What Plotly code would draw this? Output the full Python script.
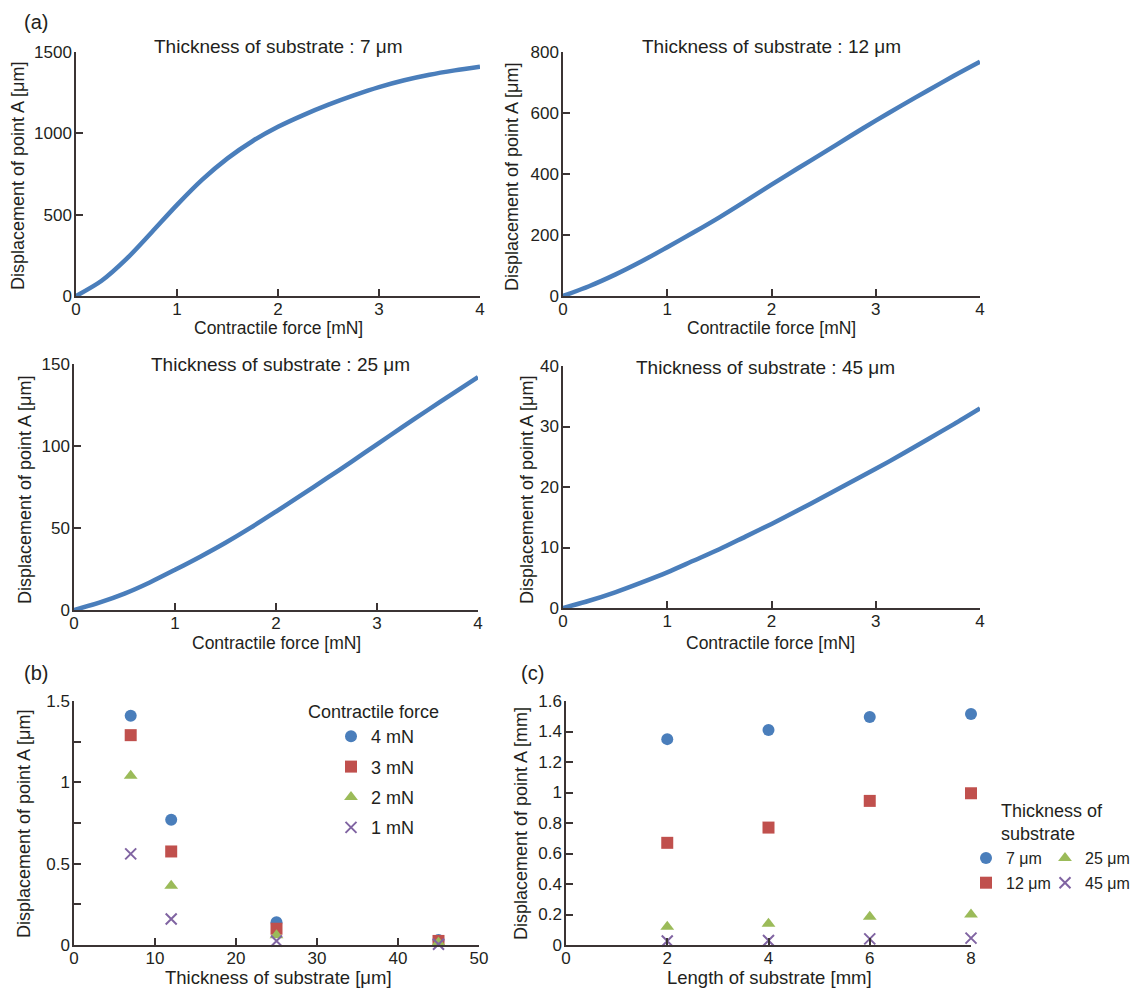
import plotly.graph_objects as go

# ---------------- data ----------------
force_mN = [0, 0.25, 0.5, 0.75, 1, 1.25, 1.5, 1.75, 2, 2.25, 2.5, 2.75, 3, 3.25, 3.5, 3.75, 4]
disp_7um = [0, 92, 228, 392, 560, 715, 846, 953, 1040, 1112, 1176, 1233, 1284, 1326, 1360, 1387, 1410]
disp_12um = [0, 32, 70, 113, 160, 208, 258, 311, 365, 418, 470, 523, 575, 625, 674, 722, 768]
disp_25um = [0, 4.5, 10, 16.8, 24.5, 32.5, 41, 50.2, 60, 70, 80.2, 90.5, 101, 111.5, 121.8, 132, 142]
disp_45um = [0, 1.2, 2.6, 4.2, 5.9, 7.8, 9.7, 11.8, 13.9, 16.1, 18.4, 20.7, 23.0, 25.4, 27.9, 30.4, 33]

panel_titles = ["Thickness of substrate : 7 μm", "Thickness of substrate : 12 μm",
                "Thickness of substrate : 25 μm", "Thickness of substrate : 45 μm"]

thickness_um = [7, 12, 25, 45]
b_4mN = [1.41, 0.77, 0.14, 0.03]
b_3mN = [1.29, 0.575, 0.10, 0.025]
b_2mN = [1.04, 0.365, 0.06, 0.015]
b_1mN = [0.56, 0.16, 0.025, 0.005]
b_names = ["4 mN", "3 mN", "2 mN", "1 mN"]

length_mm = [2, 4, 6, 8]
c_7um = [1.35, 1.41, 1.495, 1.515]
c_12um = [0.67, 0.77, 0.945, 0.995]
c_25um = [0.12, 0.14, 0.185, 0.20]
c_45um = [0.026, 0.03, 0.04, 0.045]
c_names = ["7 μm", "12 μm", "25 μm", "45 μm"]

b_yticks = [0, 0.25, 0.5, 0.75, 1, 1.25, 1.5]
b_yticktext = ["0", "", "0.5", "", "1", "", "1.5"]

# ---------------- style ----------------
W, H = 1140, 988
FONT = "Liberation Sans, Arial, sans-serif"
TXT = "#231f20"
AX = "#3b3434"
BLUE, RED, GREEN, PURPLE = "#4a7ebb", "#c0504d", "#9bbb59", "#8064a2"


def px(x):
    return x / W


def py(y):
    return 1 - y / H


fig = go.Figure()

# panel (a) line curves
curves = [disp_7um, disp_12um, disp_25um, disp_45um]
for i, ys in enumerate(curves):
    n = "" if i == 0 else str(i + 1)
    fig.add_trace(go.Scatter(x=force_mN, y=ys, mode="lines",
                             line=dict(color=BLUE, width=4.5, shape="spline", smoothing=0.8),
                             xaxis="x" + n, yaxis="y" + n, showlegend=False, hoverinfo="skip"))

# panel (b)
b_series = [b_4mN, b_3mN, b_2mN, b_1mN]
symbols = ["circle", "square", "triangle-up", "x-thin"]
colors = [BLUE, RED, GREEN, PURPLE]
for name, ys, sym, col in zip(b_names, b_series, symbols, colors):
    if sym == "x-thin":
        mk = dict(symbol=sym, size=11, color=col, line=dict(width=2, color=col))
    else:
        mk = dict(symbol=sym, size=12, color=col, line=dict(width=0))
    fig.add_trace(go.Scatter(x=thickness_um, y=ys, mode="markers", name=name, marker=mk,
                             cliponaxis=False,
                             xaxis="x5", yaxis="y5", legend="legend", legendgroup="b" + name))

# panel (c)
c_series = [c_7um, c_12um, c_25um, c_45um]
c_sym = ["circle", "square", "triangle-up", "x-thin"]
c_col = [BLUE, RED, GREEN, PURPLE]
c_leg = ["legend2", "legend2", "legend3", "legend3"]
for name, ys, sym, col, lg in zip(c_names, c_series, c_sym, c_col, c_leg):
    if sym == "x-thin":
        mk = dict(symbol=sym, size=11, color=col, line=dict(width=2, color=col))
    else:
        mk = dict(symbol=sym, size=12, color=col, line=dict(width=0))
    fig.add_trace(go.Scatter(x=length_mm, y=ys, mode="markers", name=name, marker=mk,
                             cliponaxis=False,
                             xaxis="x6", yaxis="y6", legend=lg, legendgroup="c" + name))


def axis(dom, rng, anchor, **kw):
    d = dict(domain=dom, range=rng, anchor=anchor, showline=True, linecolor=AX, linewidth=1.5,
             ticks="inside", ticklen=7, tickwidth=1.5, tickcolor=AX, showgrid=False,
             zeroline=False, automargin=False, fixedrange=True,
             tickfont=dict(size=17, color=TXT, family=FONT))
    d.update(kw)
    return d


panels = {
    1: (76, 480, 52, 296),
    2: (563, 980, 52, 296),
    3: (74, 478, 364, 610),
    4: (563, 980, 366, 608),
    5: (74, 479, 701, 945),
    6: (566, 971, 701, 945),
}
yranges = {1: [0, 1500], 2: [0, 800], 3: [0, 150], 4: [0, 40], 5: [0, 1.5], 6: [0, 1.6]}
ydticks = {1: 500, 2: 200, 3: 50, 4: 10, 6: 0.2}

layout = {}
for k, (x0, x1, yt, yb) in panels.items():
    n = "" if k == 1 else str(k)
    xd = [px(x0), px(x1)]
    yd = [py(yb), py(yt)]
    if k <= 4:
        xa = axis(xd, [0, 4], "y" + n, dtick=1, tick0=0)
    elif k == 5:
        xa = axis(xd, [0, 50], "y" + n, dtick=10, tick0=0)
    else:
        xa = axis(xd, [0, 8], "y" + n, dtick=2, tick0=0)
    if k == 5:
        ya = axis(yd, yranges[k], "x" + n, tickmode="array", tickvals=b_yticks, ticktext=b_yticktext)
    else:
        ya = axis(yd, yranges[k], "x" + n, dtick=ydticks[k], tick0=0)
    ya["ticklabelstandoff"] = -1
    xa["ticklabelstandoff"] = -3
    layout["xaxis" + n] = xa
    layout["yaxis" + n] = ya

fig.update_layout(**layout)

ann = []


def text(s, x, y, size, angle=0, xanchor="center"):
    ann.append(dict(text=s, x=px(x), y=py(y), xref="paper", yref="paper", showarrow=False,
                    xanchor=xanchor, yanchor="middle", textangle=angle,
                    font=dict(size=size, color=TXT, family=FONT)))


# panel labels
text("(a)", 36, 22, 20)
text("(b)", 36, 673, 20)
text("(c)", 532, 673, 20)

# panel titles
text(panel_titles[0], 278, 46, 19)
text(panel_titles[1], 771, 46, 19)
text(panel_titles[2], 280, 365, 19)
text(panel_titles[3], 765, 367, 19)

# x-axis titles
for cx, cy in [(278, 328), (771, 328), (276, 643), (770, 643)]:
    text("Contractile force [mN]", cx, cy, 17.5)
text("Thickness of substrate [μm]", 278, 977, 18.5)
text("Length of substrate [mm]", 769, 977, 18.5)

# y-axis titles
for cx, cy in [(18, 176), (512, 177), (25, 490), (527, 490), (24, 824)]:
    text("Displacement of point A [μm]", cx, cy, 18, angle=-90)
text("Displacement of point A [mm]", 521, 824, 18, angle=-90)

# legend titles
text("Contractile force", 373, 712, 18)
text("Thickness of<br>substrate", 999, 822, 18, xanchor="left")
ann[-1]["align"] = "left"

fig.update_layout(
    width=W, height=H, margin=dict(l=0, r=0, t=0, b=0),
    paper_bgcolor="white", plot_bgcolor="white",
    font=dict(family=FONT, color=TXT),
    annotations=ann,
    legend=dict(x=px(331), y=py(718), xanchor="left", yanchor="top", bgcolor="rgba(0,0,0,0)",
                font=dict(size=18, color=TXT, family=FONT), tracegroupgap=4, borderwidth=0),
    legend2=dict(x=px(966), y=py(841), xanchor="left", yanchor="top", bgcolor="rgba(0,0,0,0)",
                 font=dict(size=16, color=TXT, family=FONT), tracegroupgap=1, borderwidth=0),
    legend3=dict(x=px(1045), y=py(841), xanchor="left", yanchor="top", bgcolor="rgba(0,0,0,0)",
                 font=dict(size=16, color=TXT, family=FONT), tracegroupgap=1, borderwidth=0),
    showlegend=True,
)

fig.write_html("out.html", config={"displayModeBar": False},
               post_script="document.body.style.margin='0px';document.body.style.padding='0px';")
